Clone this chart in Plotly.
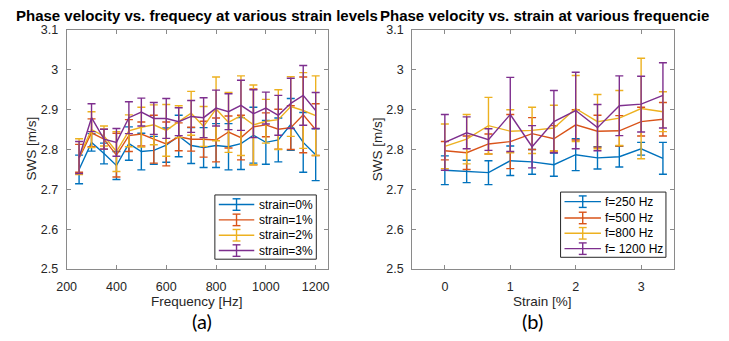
import plotly.graph_objects as go

# ---------------- data ----------------
freq = [250, 300, 350, 400, 450, 500, 550, 600, 650, 700,
        750, 800, 850, 900, 950, 1000, 1050, 1100, 1150, 1200]

sws_s0 = [2.750, 2.818, 2.790, 2.760, 2.815, 2.795, 2.798, 2.811, 2.834, 2.810,
          2.805, 2.810, 2.807, 2.815, 2.836, 2.818, 2.824, 2.863, 2.818, 2.787]
err_s0 = [0.036, 0.022, 0.026, 0.035, 0.042, 0.046, 0.035, 0.043, 0.052, 0.045,
          0.050, 0.055, 0.058, 0.065, 0.070, 0.055, 0.055, 0.065, 0.075, 0.065]

sws_s1 = [2.778, 2.842, 2.826, 2.786, 2.835, 2.839, 2.826, 2.814, 2.832, 2.826,
          2.826, 2.824, 2.844, 2.830, 2.857, 2.862, 2.851, 2.855, 2.887, 2.850]
err_s1 = [0.035, 0.035, 0.025, 0.055, 0.040, 0.030, 0.060, 0.055, 0.035, 0.030,
          0.045, 0.055, 0.040, 0.056, 0.095, 0.030, 0.050, 0.055, 0.095, 0.065]

sws_s2 = [2.782, 2.850, 2.834, 2.795, 2.847, 2.856, 2.862, 2.848, 2.870, 2.891,
          2.858, 2.902, 2.868, 2.885, 2.862, 2.871, 2.875, 2.908, 2.898, 2.885]
err_s2 = [0.045, 0.045, 0.025, 0.050, 0.040, 0.050, 0.050, 0.065, 0.040, 0.055,
          0.050, 0.080, 0.075, 0.100, 0.100, 0.055, 0.075, 0.075, 0.095, 0.100]

sws_s3 = [2.780, 2.880, 2.826, 2.818, 2.880, 2.894, 2.878, 2.878, 2.870, 2.883,
          2.880, 2.904, 2.895, 2.911, 2.890, 2.904, 2.886, 2.916, 2.936, 2.898]
err_s3 = [0.040, 0.035, 0.025, 0.035, 0.040, 0.035, 0.040, 0.050, 0.035, 0.040,
          0.050, 0.045, 0.045, 0.063, 0.060, 0.040, 0.050, 0.063, 0.075, 0.045]

strain = [0, 1/3, 2/3, 1, 4/3, 5/3, 2, 7/3, 8/3, 3, 10/3]

sws_f250 = [2.748, 2.745, 2.742, 2.772, 2.769, 2.762, 2.787, 2.779, 2.782, 2.802, 2.778]
err_f250 = [0.036, 0.028, 0.030, 0.037, 0.031, 0.029, 0.040, 0.028, 0.026, 0.016, 0.040]

sws_f500 = [2.797, 2.792, 2.814, 2.820, 2.840, 2.827, 2.862, 2.846, 2.847, 2.870, 2.876]
err_f500 = [0.023, 0.042, 0.025, 0.068, 0.040, 0.033, 0.038, 0.040, 0.038, 0.036, 0.042]

sws_f800 = [2.808, 2.826, 2.860, 2.846, 2.848, 2.854, 2.903, 2.870, 2.879, 2.903, 2.895]
err_f800 = [0.056, 0.062, 0.071, 0.054, 0.058, 0.057, 0.083, 0.068, 0.069, 0.126, 0.050]

sws_f1200 = [2.818, 2.842, 2.825, 2.888, 2.807, 2.870, 2.898, 2.855, 2.910, 2.914, 2.936]
err_f1200 = [0.070, 0.040, 0.027, 0.093, 0.053, 0.078, 0.096, 0.058, 0.075, 0.070, 0.082]

left_names = ["strain=0%", "strain=1%", "strain=2%", "strain=3%"]
right_names = ["f=250 Hz", "f=500 Hz", "f=800 Hz", "f= 1200 Hz"]

y_tickvals = [2.5, 2.6, 2.7, 2.8, 2.9, 3.0, 3.1]
y_ticktext = ["2.5", "2.6", "2.7", "2.8", "2.9", "3", "3.1"]
x1_tickvals = [200, 400, 600, 800, 1000, 1200]
x2_tickvals = [0, 1, 2, 3]

colors = ["#0072BD", "#D95319", "#EDB120", "#7E2F8E"]

# ---------------- figure ----------------
W, H = 729, 341
FONT = "Liberation Sans, Arial, sans-serif"
fig = go.Figure()

left_series = [(sws_s0, err_s0), (sws_s1, err_s1), (sws_s2, err_s2), (sws_s3, err_s3)]
for (y, e), name, c in zip(left_series, left_names, colors):
    fig.add_trace(go.Scatter(
        x=freq, y=y, name=name, mode="lines", showlegend=False,
        line=dict(color=c, width=1.4),
        error_y=dict(type="data", array=e, visible=True, color=c, thickness=1.4, width=4),
        xaxis="x", yaxis="y"))

right_series = [(sws_f250, err_f250), (sws_f500, err_f500), (sws_f800, err_f800), (sws_f1200, err_f1200)]
for (y, e), name, c in zip(right_series, right_names, colors):
    fig.add_trace(go.Scatter(
        x=strain, y=y, name=name, mode="lines", showlegend=False,
        line=dict(color=c, width=1.4),
        error_y=dict(type="data", array=e, visible=True, color=c, thickness=1.4, width=4),
        xaxis="x2", yaxis="y2"))

def px_x(p):
    return p / W

def px_y(p):
    return 1 - p / H

axis_common = dict(
    showline=True, linecolor="#8a8a8a", linewidth=1, mirror="ticks",
    ticks="inside", ticklen=4, tickcolor="#8a8a8a", tickwidth=1,
    showgrid=False, zeroline=False,
    tickfont=dict(family=FONT, size=12.5, color="#262626"),
)

fig.update_layout(
    width=W, height=H,
    margin=dict(l=0, r=0, t=0, b=0),
    paper_bgcolor="white", plot_bgcolor="white",
    showlegend=False,
    xaxis=dict(domain=[px_x(57.5), px_x(323)], range=[200, 1250],
               tickvals=x1_tickvals, anchor="y", ticklabelstandoff=6, **axis_common),
    yaxis=dict(domain=[px_y(273.3), px_y(24)], range=[2.5, 3.1],
               tickvals=y_tickvals, ticktext=y_ticktext, anchor="x", ticklabelstandoff=5, **axis_common),
    xaxis2=dict(domain=[px_x(408.3), px_x(674)], range=[-0.5, 3.5],
                tickvals=x2_tickvals, anchor="y2", ticklabelstandoff=6, **axis_common),
    yaxis2=dict(domain=[px_y(273.3), px_y(24)], range=[2.5, 3.1],
                tickvals=y_tickvals, ticktext=y_ticktext, anchor="x2", ticklabelstandoff=5, **axis_common),
)

title_font = dict(family=FONT, size=15, color="#000000")
label_font = dict(family=FONT, size=13.5, color="#262626")
tag_font = dict(family="Lato, Open Sans, sans-serif", size=20, color="#000000")
legend_font = dict(family=FONT, size=12, color="#000000")

annotations = [
    dict(text="<b>Phase velocity vs. frequecy at various strain levels</b>",
         x=px_x(190), y=px_y(9), xanchor="center", yanchor="middle", font=title_font),
    dict(text="<b>Phase velocity vs. strain at various frequencie</b>",
         x=px_x(374), y=px_y(9), xanchor="left", yanchor="middle", font=title_font),
    dict(text="Frequency [Hz]", x=px_x(190), y=px_y(307), xanchor="center", yanchor="middle", font=label_font),
    dict(text="Strain [%]", x=px_x(541), y=px_y(307), xanchor="center", yanchor="middle", font=label_font),
    dict(text="SWS [m/s]", x=px_x(22), y=px_y(148), xanchor="center", yanchor="middle",
         textangle=-90, font=label_font),
    dict(text="SWS [m/s]", x=px_x(374), y=px_y(148), xanchor="center", yanchor="middle",
         textangle=-90, font=label_font),
    dict(text="(a)", x=px_x(195), y=px_y(327), xanchor="center", yanchor="middle", font=tag_font),
    dict(text="(b)", x=px_x(530), y=px_y(327), xanchor="center", yanchor="middle", font=tag_font),
]

shapes = []

def add_legend(box, names, item_y, sample_x0, sample_x1, text_x):
    x0, y0, x1, y1 = box
    shapes.append(dict(type="rect", xref="paper", yref="paper",
                       x0=px_x(x0), x1=px_x(x1), y0=px_y(y1), y1=px_y(y0),
                       line=dict(color="#262626", width=1), fillcolor="white", layer="above"))
    xc = (sample_x0 + sample_x1) / 2
    for name, c, yy in zip(names, colors, item_y):
        shapes.append(dict(type="line", xref="paper", yref="paper",
                           x0=px_x(sample_x0), x1=px_x(sample_x1), y0=px_y(yy), y1=px_y(yy),
                           line=dict(color=c, width=1.4), layer="above"))
        shapes.append(dict(type="line", xref="paper", yref="paper",
                           x0=px_x(xc), x1=px_x(xc), y0=px_y(yy - 6), y1=px_y(yy + 6),
                           line=dict(color=c, width=1.4), layer="above"))
        for cy in (yy - 6, yy + 6):
            shapes.append(dict(type="line", xref="paper", yref="paper",
                               x0=px_x(xc - 4), x1=px_x(xc + 4), y0=px_y(cy), y1=px_y(cy),
                               line=dict(color=c, width=1.4), layer="above"))
        annotations.append(dict(text=name, x=px_x(text_x), y=px_y(yy), xanchor="left",
                                yanchor="middle", font=legend_font))

add_legend((208, 196, 311, 263), left_names, [206, 222, 238, 254], 212, 248, 251)
add_legend((559, 193, 666, 261), right_names, [203, 220, 236, 252], 563, 600, 602)

for a in annotations:
    a.update(xref="paper", yref="paper", showarrow=False)
fig.update_layout(annotations=annotations, shapes=shapes)

fig.write_html("out.html")
